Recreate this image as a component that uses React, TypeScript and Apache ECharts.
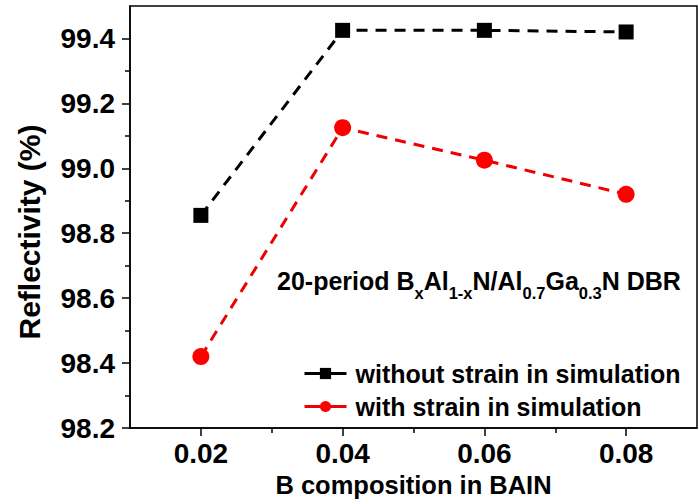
import React, { useEffect, useRef } from "react";
import * as echarts from "echarts";

const xValues = [0.02, 0.04, 0.06, 0.08];
const withoutStrain = [98.855, 99.425, 99.425, 99.42];
const withStrain = [98.42, 99.125, 99.025, 98.92];
const xMajorTicks = [0.02, 0.04, 0.06, 0.08];
const xMinorTicks = [0.03, 0.05, 0.07];
const yMajorTicks = [98.2, 98.4, 98.6, 98.8, 99.0, 99.2, 99.4];
const yMinorTicks = [98.3, 98.5, 98.7, 98.9, 99.1, 99.3];
const seriesNames = ["without strain in simulation", "with strain in simulation"];

const FONT = "'Liberation Sans', Arial, sans-serif";

export default function App() {
  const ref = useRef<HTMLDivElement>(null);
  useEffect(() => {
    document.body.style.margin = "0";
    const chart = echarts.init(ref.current!, null, { renderer: "svg" });
    const axisCommon = { lineStyle: { color: "#000", width: 1.5 } };
    chart.setOption({
      animation: false,
      backgroundColor: "#fff",
      textStyle: { fontFamily: FONT },
      grid: {
        left: 130, right: 2, top: 6, bottom: 76,
        show: true, borderColor: "#000", borderWidth: 1.5,
      },
      xAxis: [
        {
          type: "value", min: 0.01, max: 0.09,
          axisLine: { show: true, ...axisCommon },
          axisTick: { show: true, customValues: xMajorTicks, length: 8, inside: false, lineStyle: { color: "#000", width: 1.5 } },
          axisLabel: {
            customValues: xMajorTicks, margin: 11, color: "#000", fontSize: 28, fontWeight: "bold", fontFamily: FONT,
            formatter: (v: number) => v.toFixed(2),
          },
          splitLine: { show: false },
          name: "B composition in BAIN", nameLocation: "middle", nameGap: 44,
          nameTextStyle: { color: "#000", fontSize: 25.5, fontWeight: "bold", fontFamily: FONT },
        },
        {
          type: "value", min: 0.01, max: 0.09, position: "bottom",
          axisLine: { show: false },
          axisTick: { show: true, customValues: xMinorTicks, length: 5, lineStyle: { color: "#000", width: 1.5 } },
          axisLabel: { show: false },
          splitLine: { show: false },
        },
      ],
      yAxis: [
        {
          type: "value", min: 98.2, max: 99.5,
          axisLine: { show: true, ...axisCommon },
          axisTick: { show: true, customValues: yMajorTicks, length: 8, lineStyle: { color: "#000", width: 1.5 } },
          axisLabel: {
            customValues: yMajorTicks, margin: 15, color: "#000", fontSize: 28, fontWeight: "bold", fontFamily: FONT,
            formatter: (v: number) => v.toFixed(1),
          },
          splitLine: { show: false },
        },
        {
          type: "value", min: 98.2, max: 99.5, position: "left",
          axisLine: { show: false },
          axisTick: { show: true, customValues: yMinorTicks, length: 5, lineStyle: { color: "#000", width: 1.5 } },
          axisLabel: { show: false },
          splitLine: { show: false },
        },
      ],
      legend: {
        orient: "vertical", left: 298, top: 356, itemWidth: 42, itemHeight: 14, itemGap: 8,
        data: seriesNames,
        textStyle: { color: "#000", fontSize: 25, fontWeight: "bold", fontFamily: FONT, padding: [0, 0, 0, 4] },
        lineStyle: { type: "solid", width: 3 },
      },
      graphic: [
        {
          type: "text", x: 29, y: 232, rotation: Math.PI / 2,
          style: {
            text: "Reflectivity (%)", fill: "#000", fontSize: 30, fontWeight: "bold", fontFamily: FONT,
            align: "center", verticalAlign: "middle",
          },
        },
        {
          type: "text", left: 277, top: 268,
          style: {
            text: "{m|20-period B}{s|x}{m|Al}{s|1-x}{m|N/Al}{s|0.7}{m|Ga}{s|0.3}{m|N DBR}",
            fill: "#000",
            rich: {
              m: { fontSize: 25, fontWeight: "bold", fontFamily: FONT, fill: "#000", verticalAlign: "bottom", padding: [0, 0, 8, 0] },
              s: { fontSize: 16.5, fontWeight: "bold", fontFamily: FONT, fill: "#000", verticalAlign: "bottom" },
            },
          },
        },
      ],
      series: [
        {
          name: seriesNames[0], type: "line", xAxisIndex: 0, yAxisIndex: 0,
          data: xValues.map((x, i) => [x, withoutStrain[i]]),
          symbol: "rect", symbolSize: 15,
          itemStyle: { color: "#000" },
          lineStyle: { color: "#000", width: 3, type: [11, 8] },
        },
        {
          name: seriesNames[1], type: "line", xAxisIndex: 0, yAxisIndex: 0,
          data: xValues.map((x, i) => [x, withStrain[i]]),
          symbol: "circle", symbolSize: 17,
          itemStyle: { color: "#f00" },
          lineStyle: { color: "#e00", width: 3, type: [11, 8] },
        },
      ],
    });
    return () => chart.dispose();
  }, []);
  return <div ref={ref} style={{ position: "absolute", left: 0, top: 0, width: 699, height: 504 }} />;
}
